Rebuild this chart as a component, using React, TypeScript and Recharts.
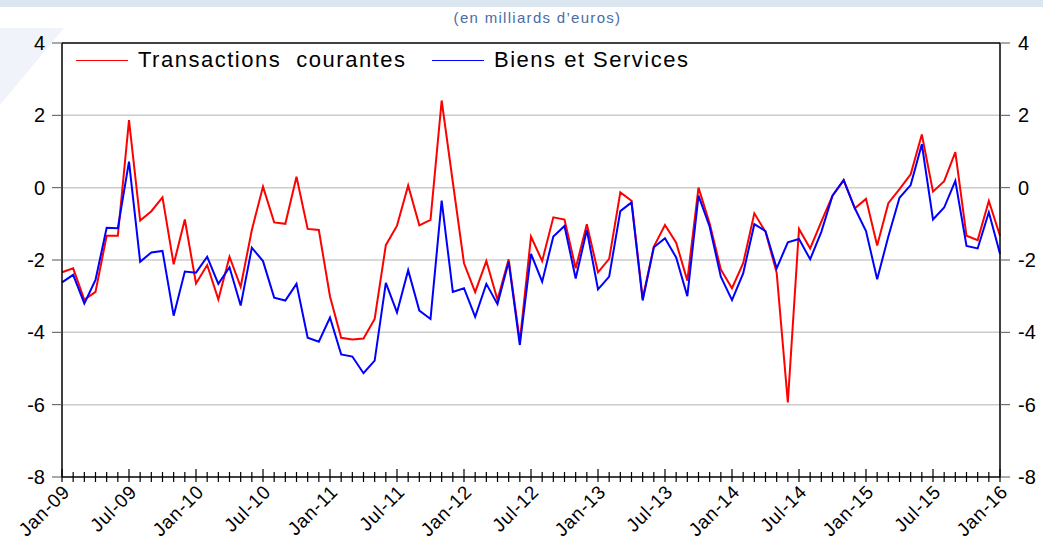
import React from 'react';
import { LineChart, Line, XAxis, YAxis, CartesianGrid, ReferenceLine } from 'recharts';

// mois de Jan-09 à Jan-16
const monthNames = ['Jan', 'Feb', 'Mar', 'Apr', 'May', 'Jun', 'Jul', 'Aug', 'Sep', 'Oct', 'Nov', 'Dec'];
const years = ['09', '10', '11', '12', '13', '14', '15', '16'];
const months = years.flatMap(y => monthNames.map(m => `${m}-${y}`)).slice(0, 85);

const tickLabels = [
  'Jan-09', 'Jul-09', 'Jan-10', 'Jul-10', 'Jan-11', 'Jul-11', 'Jan-12', 'Jul-12',
  'Jan-13', 'Jul-13', 'Jan-14', 'Jul-14', 'Jan-15', 'Jul-15', 'Jan-16',
];

const yTicks = [-8, -6, -4, -2, 0, 2, 4];

const transactions = [
  -2.34, -2.23, -3.10, -2.88, -1.33, -1.33, 1.87, -0.91, -0.65, -0.27,
  -2.12, -0.88, -2.65, -2.14, -3.09, -1.91, -2.74, -1.17, 0.03, -0.96,
  -1.00, 0.30, -1.14, -1.17, -3.01, -4.15, -4.20, -4.17, -3.63, -1.59,
  -1.05, 0.06, -1.04, -0.89, 2.41, 0.15, -2.09, -2.89, -2.03, -3.10,
  -1.98, -4.25, -1.35, -2.03, -0.82, -0.88, -2.23, -1.01, -2.34, -1.97,
  -0.13, -0.36, -3.06, -1.63, -1.03, -1.52, -2.57, 0.00, -0.99, -2.26,
  -2.78, -2.09, -0.71, -1.22, -2.35, -5.94, -1.14, -1.68, -0.94, -0.22,
  0.21, -0.57, -0.31, -1.60, -0.43, -0.04, 0.37, 1.47, -0.11, 0.18,
  0.98, -1.33, -1.45, -0.37, -1.33,
];

const biens = [
  -2.62, -2.41, -3.20, -2.55, -1.11, -1.12, 0.72, -2.05, -1.79, -1.75,
  -3.54, -2.32, -2.35, -1.91, -2.66, -2.20, -3.26, -1.66, -2.03, -3.04,
  -3.12, -2.66, -4.15, -4.26, -3.59, -4.61, -4.67, -5.13, -4.78, -2.63,
  -3.45, -2.28, -3.40, -3.63, -0.36, -2.88, -2.78, -3.57, -2.66, -3.22,
  -2.05, -4.35, -1.83, -2.60, -1.35, -1.06, -2.51, -1.17, -2.81, -2.46,
  -0.65, -0.41, -3.12, -1.65, -1.40, -1.93, -3.00, -0.22, -1.08, -2.46,
  -3.11, -2.37, -1.01, -1.20, -2.23, -1.51, -1.42, -1.98, -1.22, -0.22,
  0.21, -0.57, -1.20, -2.53, -1.35, -0.28, 0.07, 1.20, -0.88, -0.55,
  0.19, -1.61, -1.68, -0.68, -1.83,
];

const data = months.map((month, i) => ({ month, tc: transactions[i], bs: biens[i] }));

const FONT = '"Liberation Sans", Arial, sans-serif';

const XTick = (props: any) => {
  const { x, y, payload } = props;
  const label: string = payload.value;
  const major = tickLabels.includes(label);
  const ax = x + 9;
  const ay = y + 16;
  return (
    <g>
      <line x1={x} x2={x} y1={y - (major ? 8 : 5)} y2={y + 5} stroke="#000" strokeWidth={1.2} />
      {major && (
        <text
          x={ax}
          y={ay}
          textAnchor="end"
          transform={`rotate(-45 ${ax} ${ay})`}
          fontSize={19}
          fontFamily={FONT}
          letterSpacing={0.8}
          fill="#000"
        >
          {label}
        </text>
      )}
    </g>
  );
};

const LegendItem = ({ color, label, left }: { color: string; label: string; left: number }) => (
  <div style={{ position: 'absolute', left, top: 48, display: 'flex', alignItems: 'center' }}>
    <div style={{ width: 52, height: 0, borderTop: `1.5px solid ${color}`, marginRight: 10 }} />
    <span style={{ fontSize: 22, fontFamily: FONT, letterSpacing: 1.5, color: '#000', lineHeight: '24px', whiteSpace: 'pre' }}>
      {label}
    </span>
  </div>
);

const App: React.FC = () => {
  return (
    <div style={{ position: 'absolute', top: 0, left: 0, width: 1043, height: 538, background: '#fff', overflow: 'hidden' }}>
      <div style={{ position: 'absolute', top: 0, left: 0, width: 1043, height: 7, background: '#dce6f1' }} />
      <svg style={{ position: 'absolute', top: 0, left: 0 }} width={120} height={200}>
        <polygon points="0,28 64,28 0,105" fill="#f0f3f9" />
      </svg>
      <div
        style={{
          position: 'absolute', top: 9, left: 0, width: 1075, textAlign: 'center',
          fontSize: 15, fontFamily: FONT, letterSpacing: 1.3, color: '#4a6ca6',
        }}
      >
        (en milliards d’euros)
      </div>
      <div style={{ position: 'absolute', top: 0, left: 0 }}>
        <LineChart width={1043} height={538} data={data} margin={{ top: 43, right: 0, left: 0, bottom: 0 }}>
          <CartesianGrid yAxisId="left" vertical={false} horizontalValues={[-6, -4, -2, 0, 2]} stroke="#cccccc" strokeWidth={1.5} />
          <XAxis
            dataKey="month"
            height={61}
            interval={0}
            tick={<XTick />}
            tickLine={false}
            tickSize={0}
            tickMargin={0}
            axisLine={{ stroke: '#000', strokeWidth: 1.5 }}
          />
          <YAxis
            yAxisId="left"
            orientation="left"
            width={62}
            domain={[-8, 4]}
            ticks={yTicks}
            allowDataOverflow
            tickSize={10}
            tickMargin={7}
            tickLine={{ stroke: '#555' }}
            axisLine={{ stroke: '#000', strokeWidth: 1.5 }}
            tick={{ fontSize: 20, fontFamily: FONT, fill: '#000' }}
          />
          <YAxis
            yAxisId="right"
            orientation="right"
            width={43}
            domain={[-8, 4]}
            ticks={yTicks}
            allowDataOverflow
            tickSize={10}
            tickMargin={8}
            tickLine={{ stroke: '#555' }}
            axisLine={{ stroke: '#000', strokeWidth: 1.5 }}
            tick={{ fontSize: 20, fontFamily: FONT, fill: '#000' }}
          />
          <ReferenceLine yAxisId="left" y={4} stroke="#000" strokeWidth={1.5} />
          <Line yAxisId="left" type="linear" dataKey="tc" stroke="#ff0000" strokeWidth={2} dot={false} isAnimationActive={false} />
          <Line yAxisId="right" type="linear" dataKey="bs" stroke="#0000ff" strokeWidth={2} dot={false} isAnimationActive={false} />
        </LineChart>
      </div>
      <LegendItem color="#ff0000" label={'Transactions  courantes'} left={76} />
      <LegendItem color="#0000ff" label="Biens et Services" left={432} />
    </div>
  );
};

export default App;
